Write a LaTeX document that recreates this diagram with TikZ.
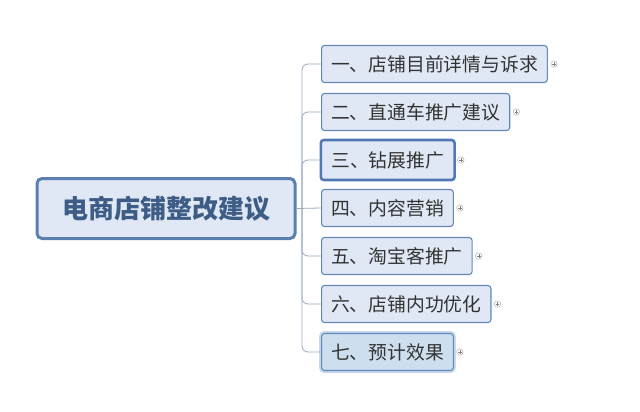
\documentclass[tikz,border=0pt]{standalone}
\usepackage{fontspec}
\newfontfamily\cjk{Noto Sans CJK SC}
\definecolor{boxfill}{HTML}{DFE8F4}
\definecolor{boxline}{HTML}{6288BC}
\definecolor{selline}{HTML}{4F78B4}
\definecolor{rootline}{HTML}{5A7FB0}
\definecolor{roottext}{HTML}{3E5D86}
\definecolor{linkgray}{HTML}{9AABBD}
\definecolor{halo}{HTML}{C6D9EC}
\begin{document}
\begin{tikzpicture}[x=1pt,y=-1pt,
   topic/.style={draw=boxline,fill=boxfill,line width=1.1pt,rounded corners=3pt,
      anchor=west,minimum height=37pt,inner xsep=9.5pt,inner ysep=0pt,
      text=black!80,font=\cjk\fontsize{18.8}{20}\selectfont},
   root/.style={draw=rootline,fill=boxfill,line width=3pt,rounded corners=5pt,
      minimum width=258pt,minimum height=60pt,text=roottext,
      font=\cjk\bfseries\fontsize{26}{28}\selectfont},
   link/.style={draw=linkgray,line width=0.8pt,rounded corners=6pt},
   foldbtn/.style={circle,draw=gray!70,fill=white,line width=0.4pt,inner sep=0pt,
      minimum size=6.5pt,path picture={
         \draw[gray,line width=0.4pt] ([xshift=-1.8pt]path picture bounding box.center)
            -- ([xshift=1.8pt]path picture bounding box.center);
         \draw[gray,line width=0.4pt] ([yshift=-1.8pt]path picture bounding box.center)
            -- ([yshift=1.8pt]path picture bounding box.center);}}]
   \useasboundingbox (0,0) rectangle (640,412);
   % central topic
   \node[root] (center) at (166,208.5) {电商店铺整改建议};
   % branches
   \node[topic] (t1) at (321,64) {一、店铺目前详情与诉求};
   \node[topic] (t2) at (321,112) {二、直通车推广建议};
   \node[topic,draw=selline,line width=2.6pt,minimum height=40pt,inner xsep=10.5pt] (t3) at (319.5,160) {三、钻展推广};
   \node[topic] (t4) at (321,208) {四、内容营销};
   \node[topic] (t5) at (321,256) {五、淘宝客推广};
   \node[topic] (t6) at (321,304) {六、店铺内功优化};
   \node[topic,fill=halo!70!boxfill,preaction={draw=halo,line width=5pt}] (t7) at (321,352) {七、预计效果};
   % connectors
   \coordinate (fork) at (302,208);
   \draw[link] (center.east) -- (t4.west);
   \draw[link] (fork) |- (t1.west);
   \draw[link] (fork) |- (t2.west);
   \draw[link] (fork) |- (t3.west);
   \draw[link] (fork) |- (t5.west);
   \draw[link] (fork) |- (t6.west);
   \draw[link] (fork) |- (t7.west);
   % fold buttons
   \node[foldbtn] (b1) at ([xshift=6pt]t1.east) {};
   \node[foldbtn] (b2) at ([xshift=6pt]t2.east) {};
   \node[foldbtn] (b3) at ([xshift=5pt]t3.east) {};
   \node[foldbtn] (b4) at ([xshift=6pt]t4.east) {};
   \node[foldbtn] (b5) at ([xshift=6pt]t5.east) {};
   \node[foldbtn] (b6) at ([xshift=6pt]t6.east) {};
   \node[foldbtn] (b7) at ([xshift=6pt]t7.east) {};
\end{tikzpicture}
\end{document}
